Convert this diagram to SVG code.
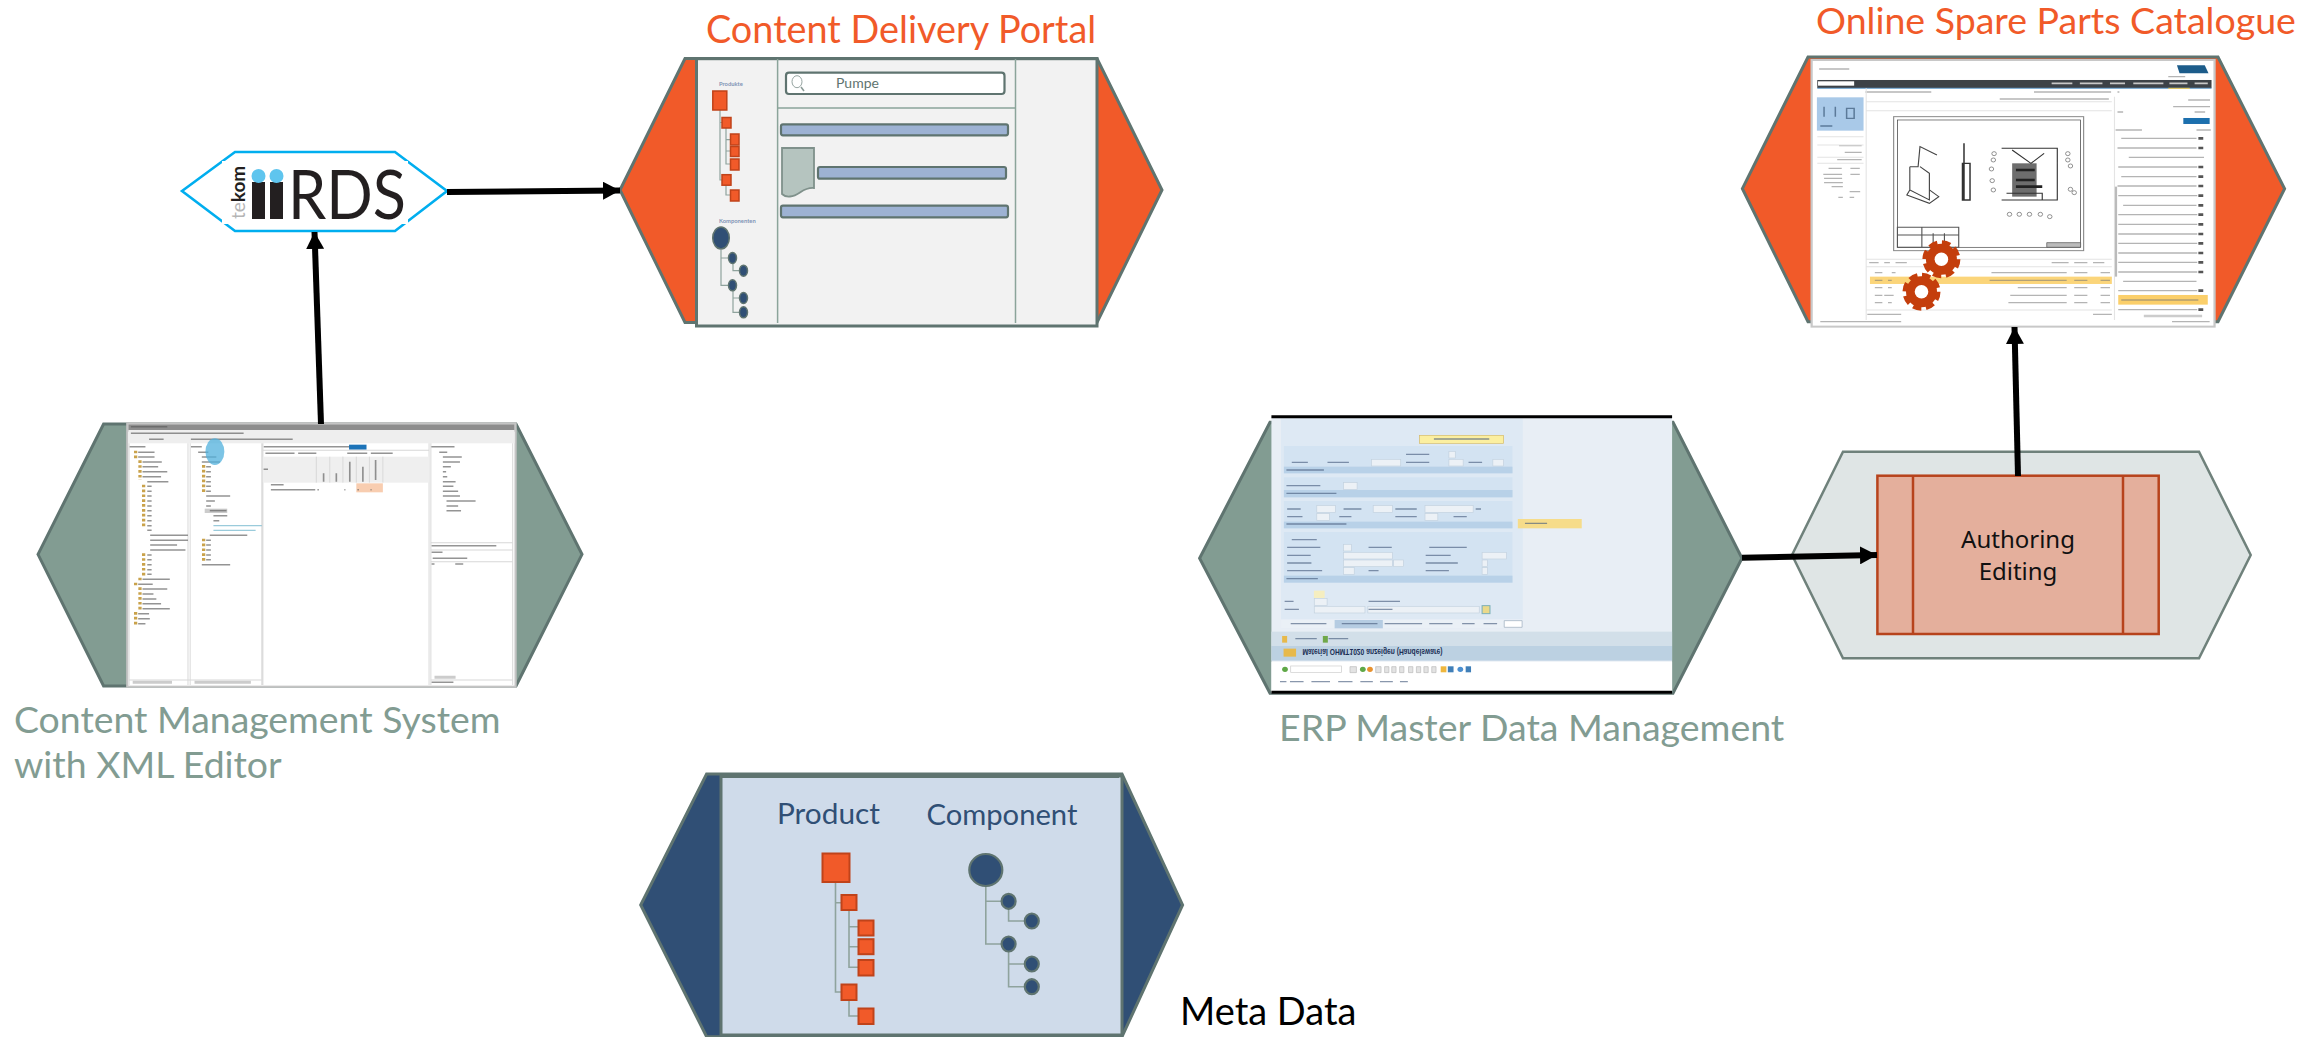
<svg xmlns="http://www.w3.org/2000/svg" width="2324" height="1037" viewBox="0 0 2324 1037">
<style>
.t{font-family:"Lato","Liberation Sans",sans-serif}
.org{fill:#F15A29}
.hx{stroke:#5F7470;stroke-width:3;stroke-linejoin:miter}
.sq{fill:#F15A29;stroke:#C0431A}
.cn{fill:none;stroke:#8FA39D}
.el{fill:#304F75;stroke:#5F7470}
.bar{fill:#9DB2D3;stroke:#5F7470;stroke-width:2.2}
.wire{stroke:#000;stroke-width:6;fill:none}
.ln{fill:none;stroke:#5a5a5a;stroke-width:4.5;opacity:.65}
.ln2{fill:none;stroke:#4a5f80;stroke-width:4;opacity:.65}
.ln3{fill:none;stroke:#777;stroke-width:4;opacity:.55}
.ico{fill:none;stroke:#C9A24B;stroke-width:9;stroke-dasharray:8 6.6}
</style>
<defs>
<marker id="ah" markerUnits="userSpaceOnUse" markerWidth="18" markerHeight="18" refX="17" refY="9" orient="auto"><path d="M0 0L17 9L0 18Z" fill="#000"/></marker>
<filter id="soft" x="-2%" y="-2%" width="104%" height="104%"><feGaussianBlur stdDeviation="0.4"/></filter>
<g id="gear"><circle r="15.5" fill="#C43E0C"/><circle r="16.8" fill="none" stroke="#C43E0C" stroke-width="4.4" stroke-dasharray="8.500 4.700"/><circle r="6.8" fill="#fff"/></g>
</defs>

<g id="node-iirds">
<path d="M182 191L235 152H395L447 191L395 231H235Z" fill="#fff" stroke="#00AEEF" stroke-width="2.6"/>
<rect x="222" y="161" width="186" height="63" fill="#fff"/>
<text class="t" transform="translate(245 219) rotate(-90)" font-size="19" font-weight="700" fill="#231F20"><tspan fill="#B5B5B5" font-weight="400">te</tspan>kom</text>
<rect x="252" y="182" width="13" height="37" fill="#231F20"/><rect x="270" y="182" width="13" height="37" fill="#231F20"/>
<circle cx="258.500" cy="176" r="7" fill="#5FC5EE"/><circle cx="276.500" cy="176" r="7" fill="#5FC5EE"/>
<text class="t" x="288" y="219" font-size="68" fill="#231F20" textLength="118" lengthAdjust="spacingAndGlyphs">RDS</text>
</g>

<g id="node-portal">
<text class="t org" x="706" y="43" font-size="37.800">Content Delivery Portal</text>
<path class="hx org" d="M620 190L685 58.500H1097L1162 190L1097 322.500H685Z"/>
<rect x="696.500" y="58.700" width="400.500" height="267.300" fill="#F2F2F2" stroke="#5F7470" stroke-width="3"/>
<path d="M777.600 59V323M1015.500 59V323M778 108H1015" fill="none" stroke="#8BA49A" stroke-width="1.5"/>
<rect x="786" y="72.700" width="218.500" height="21.300" rx="3" fill="#fff" stroke="#5F7470" stroke-width="2.200"/>
<ellipse cx="797" cy="81.700" rx="5" ry="6" fill="none" stroke="#8a9a96" stroke-width=".9"/><path d="M801 87L804 91" stroke="#8a9a96" stroke-width="1.500"/>
<text class="t" x="836" y="88" font-size="14" fill="#5F7470">Pumpe</text>
<rect class="bar" x="781" y="124.300" width="227" height="11" rx="2"/>
<rect class="bar" x="818" y="167" width="188" height="11.700" rx="2"/>
<rect class="bar" x="781" y="205.700" width="227" height="11.600" rx="2"/>
<path d="M782 148H814V188C802 187 800 196 790 196.500Q785 197 782 194Z" fill="#B5C4BF" stroke="#7F918B" stroke-width="1.800"/>
<text class="t" x="719" y="86" font-size="5.800" font-weight="700" fill="#7F93B5">Produkte</text>
<path class="cn" stroke-width="1.200" d="M720 110V180H722M720 122.500H722M726 128V164H730M726 139.700H730M726 151H730M726 185V195H730"/>
<g stroke-width="1.500">
<rect class="sq" x="712.800" y="91" width="14" height="19"/>
<rect class="sq" x="722" y="117.500" width="9" height="10.500"/>
<rect class="sq" x="730.500" y="134" width="8.500" height="11"/>
<rect class="sq" x="730.500" y="146.500" width="8.500" height="10"/>
<rect class="sq" x="730.500" y="159" width="8.500" height="11"/>
<rect class="sq" x="722" y="174.700" width="9" height="10.500"/>
<rect class="sq" x="730.500" y="190" width="8.500" height="11"/>
</g>
<text class="t" x="719" y="223" font-size="5.800" font-weight="700" fill="#7F93B5">Komponenten</text>
<path class="cn" stroke-width="1.200" d="M721 250V285.300H728M721 258H728M733 264V270.700H739M733 291V312.300H739M733 298H739"/>
<g stroke-width="1.500">
<ellipse class="el" cx="721" cy="238" rx="8.300" ry="11"/>
<ellipse class="el" cx="732.500" cy="258" rx="4" ry="5.500"/>
<ellipse class="el" cx="743.500" cy="270.700" rx="4" ry="5.500"/>
<ellipse class="el" cx="732.500" cy="285.300" rx="4" ry="5.500"/>
<ellipse class="el" cx="743.500" cy="298" rx="4" ry="5.500"/>
<ellipse class="el" cx="743.500" cy="312.300" rx="4" ry="5.500"/>
</g>
</g>

<g id="node-cms">
<path class="hx" fill="#829C92" d="M38 554.300L103.600 424H516L582 554.300L516 686H103.600Z"/>
<g filter="url(#soft)" transform="translate(20 410) scale(.3636 .3333)">
<rect x="295" y="40" width="1068" height="790" fill="#fff" stroke="#C4C4C4" stroke-width="6"/>
<rect x="298" y="43" width="1062" height="22" fill="#8d8d8d"/>
<rect x="298" y="60" width="1062" height="40" fill="#eeeeee"/>
<path d="M305 50h100M305 70h310M355 88h40M470 88h280M300 110h45M470 110h30M670 110h250M1130 110h65" class="ln"/>
<rect x="905" y="104" width="48" height="15" fill="#1E73B8"/>
<path d="M300 100V825M462 100V825M468 100V825M665 100V825M668 100V825M1125 100V825M1130 100V825M1355 100V825" fill="none" stroke="#dcdcdc" stroke-width="3"/>
<path d="M668 121H1125M300 810H665M1130 810H1355M1130 398H1355M1130 420H1355M1130 455H1355" fill="none" stroke="#d8d8d8" stroke-width="3"/>
<rect x="668" y="140" width="457" height="78" fill="#efefef"/>
<path d="M815 140V218M852 140V218M888 140V218M925 140V218M961 140V218M998 140V218" stroke="#d0d0d0" stroke-width="2"/>
<rect x="925" y="220" width="73" height="27" fill="#F8CDB0"/>
<path class="ico" d="M318 122V148M318 518V530M318 606V648M330 151V210M330 503V515M330 532V603M340 224V354M340 430V500M505 165V252M505 386V456"/>
<path class="ln" d="M325 127h45M325 141h45M337 156h53M337 170h43M337 185h68M337 200h51M350 215h58M350 229h12M350 244h12M350 258h12M350 273h12M350 288h12M350 302h12M350 317h12M350 332h12M350 347h12M350 361h12M358 376h104M358 391h104M358 405h74M358 420h97M350 435h12M350 449h12M350 464h12M350 479h12M350 493h12M337 508h75M325 523h40M337 537h68M337 552h30M337 567h38M337 581h51M337 596h75M325 611h30M325 626h32M325 641h20"/>
<path class="ln" d="M490 127h28M500 141h40M500 156h50M512 170h13M512 185h13M512 200h13M512 215h13M512 229h13M512 244h13M512 258h66M512 273h24M512 288h13M532 317h38M532 332h16M522 376h103M512 391h13M512 405h13M512 420h13M512 435h13M512 449h13M500 464h78"/>
<rect x="508" y="296" width="62" height="13" fill="#ccc"/><path class="ln" d="M522 302h46"/>
<path d="M532 347h133M532 361h116" fill="none" stroke="#6FB5CC" stroke-width="4" opacity=".7"/>
<path class="ln" d="M1153 127h22M1163 141h52M1163 156h47M1163 170h22M1163 185h9M1163 200h12M1163 215h35M1163 229h29M1163 244h42M1163 258h47M1173 273h80M1173 288h32M1173 302h40M1132 407h178M1132 427h30M1132 462h8M1197 462h22M1135 445h95M1132 817h60"/>
<path class="ln" d="M690 224h35M690 239h122M818 239h4M892 239h3M928 239h4M964 239h3M675 130h80M765 130h50M900 130h55M965 130h60M835 190v25M870 190v25M907 155v60M943 170v45M978 150v60M670 178h12"/>
<path d="M310 817h108M480 817h155M1140 802h58" fill="none" stroke="#ccc" stroke-width="9"/>
<ellipse cx="536" cy="125" rx="26" ry="40" fill="#4FB0DC" opacity=".75"/>
</g>
<text class="t" x="14" y="733" font-size="37.400" fill="#829C92">Content Management System</text>
<text class="t" x="14" y="778" font-size="37.400" fill="#829C92">with XML Editor</text>
</g>

<g id="node-erp">
<path class="hx" fill="#829C92" d="M1199.600 558.300L1270 422.300H1673L1742 558.300L1673 693.300H1270Z"/>
<g filter="url(#soft)" transform="translate(1190 410) scale(.3571 .3333)">
<rect x="228" y="20" width="1122" height="830" fill="#E8EEF5"/>
<rect x="228" y="755" width="1122" height="92" fill="#fff"/>
<rect x="228" y="708" width="1122" height="44" fill="#BCD1E2"/>
<rect x="228" y="665" width="1122" height="43" fill="#D2DFE9"/>
<rect x="255" y="25" width="677" height="630" fill="#DEE9F4"/>
<rect x="255" y="628" width="677" height="27" fill="#EAF0F6"/>
<rect x="405" y="630" width="135" height="25" fill="#B5CCE2"/>
<g fill="#D3E3F2"><rect x="263" y="108" width="640" height="82"/><rect x="263" y="202" width="640" height="60"/><rect x="263" y="273" width="640" height="82"/><rect x="263" y="366" width="640" height="152"/></g>
<g fill="#B8D1E8"><rect x="263" y="170" width="640" height="20"/><rect x="263" y="240" width="640" height="22"/><rect x="263" y="335" width="640" height="20"/><rect x="263" y="497" width="640" height="21"/></g>
<g fill="#ECF1F6" stroke="#C3D2DF" stroke-width="2"><rect x="508" y="148" width="82" height="20"/><rect x="725" y="148" width="40" height="20"/><rect x="848" y="148" width="30" height="20"/><rect x="725" y="124" width="18" height="20"/><rect x="430" y="218" width="38" height="20"/><rect x="355" y="287" width="52" height="20"/><rect x="513" y="287" width="54" height="20"/><rect x="658" y="287" width="135" height="20"/><rect x="355" y="311" width="36" height="20"/><rect x="658" y="311" width="36" height="20"/><rect x="430" y="403" width="22" height="20"/><rect x="430" y="427" width="137" height="20"/><rect x="818" y="427" width="68" height="20"/><rect x="430" y="450" width="137" height="20"/><rect x="570" y="450" width="28" height="20"/><rect x="818" y="450" width="15" height="20"/><rect x="430" y="473" width="30" height="20"/><rect x="818" y="473" width="15" height="20"/><rect x="348" y="566" width="36" height="20"/><rect x="348" y="589" width="142" height="20"/><rect x="498" y="589" width="312" height="20"/></g>
<rect x="347" y="542" width="30" height="22" fill="#F5EEC0"/>
<rect x="818" y="587" width="22" height="24" fill="#EAD98A" stroke="#7DB0B8" stroke-width="3"/>
<rect x="643" y="76" width="235" height="24" fill="#FBEFA0" stroke="#D5BB6A" stroke-width="2"/>
<rect x="918" y="327" width="179" height="28" fill="#F6DC8A"/>
<path class="ln2" d="M683 87h155M938 340h62M605 133h65M285 157h45M385 157h60M605 157h65M780 157h38M270 180h105M270 227h95M270 250h140M272 297h38M430 297h50M575 297h60M800 297h15M272 320h43M418 320h34M575 320h60M738 320h37M270 342h168M285 389h70M272 412h93M500 412h65M670 412h105M272 436h66M660 436h70M272 459h68M660 459h90M272 482h98M500 482h28M660 482h65M270 506h88M265 574h25M500 574h88M265 598h40M500 598h67M282 641h100M425 641h100M545 641h105M670 641h65M762 641h35M822 641h38M295 686h60M388 686h55M252 815h18M280 815h38M340 815h52M415 815h40M477 815h35M532 815h36M588 815h22"/>
<path d="M880 632h50v20h-50z" fill="#fff" stroke="#9ab" stroke-width="2"/>
<rect x="282" y="768" width="142" height="20" fill="#fff" stroke="#ccc" stroke-width="2"/>
<circle cx="266" cy="778" r="8" fill="#5FA846"/>
<path d="M448 770h18v18h-18zM520 770h15v18h-15zM545 770h12v18h-12zM565 770h12v18h-12zM587 770h12v18h-12zM612 770h12v18h-12zM634 770h12v18h-12zM655 770h12v18h-12zM677 770h12v18h-12z" fill="#E3E3E3" stroke="#bbb" stroke-width="2"/>
<circle cx="484" cy="778" r="8" fill="#5FA846"/><circle cx="504" cy="778" r="8" fill="#E8912D"/>
<rect x="702" y="769" width="16" height="18" fill="#EFB73E"/><rect x="722" y="769" width="16" height="18" fill="#3F7FB8"/><circle cx="757" cy="778" r="8" fill="#4B8FD0"/><rect x="772" y="769" width="15" height="18" fill="#3F7FB8"/>
<rect x="262" y="716" width="35" height="24" fill="#E7B94C"/><rect x="258" y="678" width="14" height="20" fill="#E7B94C"/><rect x="372" y="678" width="14" height="20" fill="#6FA84A"/>
<path d="M228 20H1350M228 847H1350" stroke="#000" stroke-width="9" fill="none"/>
</g>
<text transform="translate(1302.500 649) scale(1 -1)" font-family="Liberation Sans,sans-serif" font-size="8.800" font-weight="700" fill="#1A2F55" textLength="140" lengthAdjust="spacingAndGlyphs">Material OHMT1020 anzeigen (Handelsware)</text>
<text class="t" x="1279" y="741" font-size="37.500" fill="#829C92">ERP Master Data Management</text>
</g>

<g id="node-catalogue">
<text class="t org" x="1816" y="33.500" font-size="37.500">Online Spare Parts Catalogue</text>
<path class="hx org" d="M1742.400 188.700L1808 57H2218L2284.600 188.700L2218 321.700H1808Z"/>
<g filter="url(#soft)" transform="translate(1730 0) scale(.3762 .3333)">
<rect x="217" y="180" width="1071" height="800" fill="#fff" stroke="#C8C8C8" stroke-width="6"/>
<rect x="232" y="240" width="1048" height="24" fill="#3E4347"/>
<path d="M232 265H1280" stroke="#5A94C4" stroke-width="3"/>
<rect x="234" y="244" width="96" height="13" fill="#fff"/>
<path d="M855 250h55M930 250h60M1010 250h40M1072 250h80M1168 250h48M1235 250h35" fill="none" stroke="#c8c8c8" stroke-width="5"/>
<path d="M1188 196H1262L1272 220H1195Z" fill="#1F5C8A"/>
<path d="M1165 265H1222" stroke="#F2C94C" stroke-width="3"/>
<path class="ln3" d="M237 207h80M1165 230h45M360 276h175M808 276h205M717 297h290M1030 276h5M1178 320h98M1218 300h58M1025 390h70M1240 390h38M1030 336h15M1235 336h28M290 437h60M305 457h45M285 479h65M262 505h35M320 505h25M248 523h50M250 535h48M250 548h50M270 560h30M320 523h25M318 575h28M288 592h12M318 592h12M370 788h25M410 788h15M440 788h30M855 788h45M915 788h35M965 788h30M240 965h215M1175 965h100M965 943h50M365 943h90"/>
<path d="M232 410H355M232 435H355M232 472H355M232 490H355M1022 290V960M362 265V960M362 305H1015M362 332H1015M362 778H1015M362 800H1015M362 930H1015" fill="none" stroke="#E4E4E4" stroke-width="3"/>
<rect x="231" y="292" width="124" height="100" fill="#A9C9E8"/>
<path d="M250 320v30M280 320v30M310 325h20v30h-20zM240 378h32" fill="none" stroke="#5B7A99" stroke-width="4"/>
<rect x="1205" y="354" width="70" height="18" fill="#1F6FAE"/>
<rect x="435" y="350" width="505" height="402" fill="#fff" stroke="#8A8A8A" stroke-width="3"/>
<rect x="445" y="360" width="487" height="382" fill="none" stroke="#444" stroke-width="2"/>
<path d="M478 500L500 500L505 440L550 465M478 500V570L530 600V520L505 500M478 570L470 585L530 610L555 590L530 570" fill="none" stroke="#444" stroke-width="3"/>
<path d="M622 430V600M618 490H638V600H618Z" fill="none" stroke="#333" stroke-width="4"/>
<path d="M750 490h65v100h-65z" fill="#6d6d6d"/>
<path d="M722 445H870V600H722M735 580H830V600H735M750 450L800 490L835 460" fill="none" stroke="#333" stroke-width="3"/>
<path d="M760 510h50M760 540h50M760 560h70" stroke="#222" stroke-width="8"/>
<g fill="none" stroke="#666" stroke-width="2"><circle cx="702" cy="461" r="6"/><circle cx="700" cy="480" r="6"/><circle cx="695" cy="507" r="6"/><circle cx="697" cy="542" r="6"/><circle cx="700" cy="570" r="6"/><circle cx="898" cy="461" r="6"/><circle cx="898" cy="480" r="6"/><circle cx="905" cy="498" r="6"/><circle cx="905" cy="568" r="6"/><circle cx="915" cy="578" r="6"/><circle cx="743" cy="643" r="6"/><circle cx="769" cy="643" r="6"/><circle cx="796" cy="643" r="6"/><circle cx="825" cy="643" r="6"/><circle cx="850" cy="650" r="6"/></g>
<path d="M445 682H608V742H445ZM445 705H608M510 682V742M540 700V742M570 700V742" fill="none" stroke="#555" stroke-width="3"/>
<path d="M842 728H932V742H842Z" fill="#bbb" stroke="#555" stroke-width="2"/>
<rect x="372" y="830" width="643" height="22" fill="#FBD57A"/>
<path class="ln3" d="M385 818h20M430 818h10M695 818h200M915 818h35M985 818h25M385 841h20M420 841h10M690 841h205M915 841h35M985 841h25M385 863h20M420 863h10M765 863h130M915 863h35M985 863h25M385 886h20M410 886h25M745 886h150M915 886h35M985 886h25M385 908h20M420 908h10M740 908h155M915 908h35M985 908h25"/>
<path class="ln3" d="M1040 415h200M1030 444h210M1060 472h200M1032 501h210M1040 530h200M1030 558h210M1032 587h210M1045 616h195M1032 644h210M1032 673h210M1032 702h210M1032 730h210M1032 759h210M1032 787h210M1032 816h210M1045 844h195M1032 872h210M1032 929h210"/>
<path d="M1245 415h13M1245 444h13M1245 501h13M1245 530h13M1245 558h13M1245 587h13M1245 616h13M1245 644h13M1245 673h13M1245 702h13M1245 730h13M1245 759h13M1245 787h13M1245 816h13M1245 872h13M1245 929h13" stroke="#555" stroke-width="8"/>
<rect x="1032" y="885" width="238" height="29" fill="#FBCF6A"/>
<path d="M1040 900h205" class="ln3"/>
<path d="M1026 560V830" stroke="#bbb" stroke-width="6"/>
<path d="M1100 948H1255" stroke="#ccc" stroke-width="8"/>
</g>
<use href="#gear" x="1941.400" y="259.300"/>
<use href="#gear" x="1921.500" y="291.700"/>
</g>

<g id="node-authoring">
<path d="M1792 555L1843 451.700H2199L2250.700 555L2199 658.300H1843Z" fill="#DFE5E5" stroke="#6F817B" stroke-width="2.500"/>
<rect x="1877.400" y="475.700" width="281.300" height="158.300" fill="#E4AF9C" stroke="#B7431C" stroke-width="2.500"/>
<path d="M1913 476V634M2123 476V634" stroke="#B7431C" stroke-width="2.500"/>
<text x="2018" y="547.500" text-anchor="middle" font-family="Noto Sans,Liberation Sans,sans-serif" font-size="24" fill="#111">Authoring</text>
<text x="2018" y="580" text-anchor="middle" font-family="Noto Sans,Liberation Sans,sans-serif" font-size="24" fill="#111">Editing</text>
</g>

<g id="node-metadata">
<path class="hx" fill="#304F75" d="M640.700 905L706.600 774H1122L1182.600 905L1122 1036.700H706.600Z"/>
<rect x="721" y="776" width="401" height="259" fill="#CFDBEA" stroke="#5F7470" stroke-width="3"/>
<path d="M721 776H1119" stroke="#5F7470" stroke-width="4"/>
<text class="t" x="777" y="824" font-size="29.800" fill="#304F75">Product</text>
<text class="t" x="926.500" y="825" font-size="29.200" fill="#304F75">Component</text>
<path class="cn" stroke-width="1.600" d="M835.500 882V992H841M835.500 902.700H841M849 910V967.300H858M849 926.700H858M849 946.700H858M849 1000V1016H858"/>
<g stroke-width="2">
<rect class="sq" x="822.500" y="853.500" width="27" height="28.500"/>
<rect class="sq" x="841.500" y="895" width="15" height="15"/>
<rect class="sq" x="858.500" y="920.500" width="15" height="15"/>
<rect class="sq" x="858.500" y="939.200" width="15" height="15"/>
<rect class="sq" x="858.500" y="960" width="15" height="15.500"/>
<rect class="sq" x="841.500" y="984.500" width="15" height="15.500"/>
<rect class="sq" x="858.500" y="1008.500" width="15" height="15.500"/>
</g>
<path class="cn" stroke-width="1.600" d="M985.800 886V944H1001M985.800 901.300H1001M1008.600 909V921H1024M1008.600 952V986.700H1024M1008.600 964H1024"/>
<g stroke-width="2.200">
<ellipse class="el" cx="985.800" cy="870" rx="16.500" ry="16"/>
<ellipse class="el" cx="1008.600" cy="901.300" rx="7" ry="7.500"/>
<ellipse class="el" cx="1031.800" cy="921" rx="7" ry="7.500"/>
<ellipse class="el" cx="1008.600" cy="944" rx="7" ry="7.500"/>
<ellipse class="el" cx="1031.800" cy="964" rx="7" ry="7.500"/>
<ellipse class="el" cx="1031.800" cy="986.700" rx="7" ry="7.500"/>
</g>
<text class="t" x="1180" y="1025" font-size="38" fill="#000">Meta Data</text>
</g>

<g id="connectors">
<path class="wire" marker-end="url(#ah)" d="M447 192L620 190.500"/>
<path class="wire" marker-end="url(#ah)" d="M321 424L314.500 232"/>
<path class="wire" marker-end="url(#ah)" d="M1742 557.700L1877 555"/>
<path class="wire" marker-end="url(#ah)" d="M2018 476L2014.500 327"/>
</g>
</svg>
